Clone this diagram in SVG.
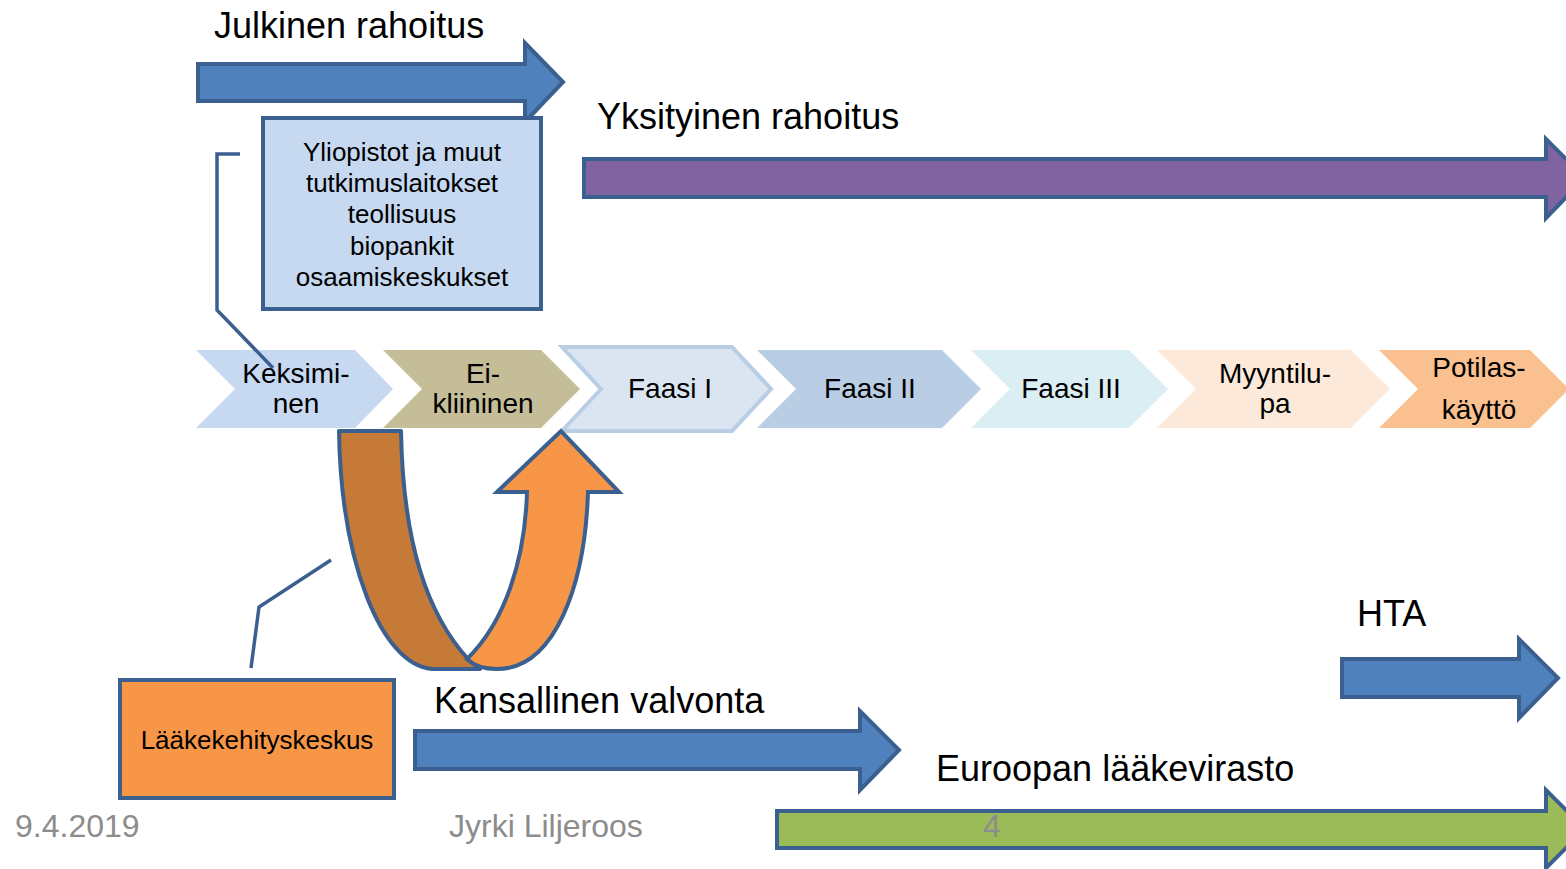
<svg xmlns="http://www.w3.org/2000/svg" width="1566" height="869" viewBox="0 0 1566 869">
<style>
text{font-family:"Liberation Sans",Arial,sans-serif;fill:#000}
.big{font-size:36px}
.mid{font-size:26px;text-anchor:middle}
.chev{font-size:28px;text-anchor:middle}
.foot{font-size:32px;fill:#8c8c8c}
.arrow{stroke:#3b5f8e;stroke-width:4;stroke-linejoin:miter}
.blue{fill:#4f81bd}
.conn{fill:none;stroke:#3b5f8e;stroke-width:3.5}
</style>
<rect width="1566" height="869" fill="#fff"/>
<g id="julkinen">
<path class="arrow blue" d="M198,64 L525,64 L525,43 L563,82 L525,122 L525,101 L198,101 Z"/>
<text class="big" x="214" y="38">Julkinen rahoitus</text>
</g>
<g id="yksityinen">
<path class="arrow" fill="#8064a2" d="M584,159 L1546,159 L1546,139 L1585,178 L1546,218 L1546,197 L584,197 Z"/>
<text class="big" x="597" y="129">Yksityinen rahoitus</text>
</g>
<g id="yliopistot">
<rect x="263" y="118" width="278" height="191" fill="#c6d9f1" stroke="#3b5f8e" stroke-width="4"/>
<text class="mid" x="402" y="161">Yliopistot ja muut</text>
<text class="mid" x="402" y="192">tutkimuslaitokset</text>
<text class="mid" x="402" y="223">teollisuus</text>
<text class="mid" x="402" y="255">biopankit</text>
<text class="mid" x="402" y="286">osaamiskeskukset</text>
</g>
<g id="keksiminen">
<path fill="#c6d9f1" d="M196,350 L355,350 L393,389 L355,428 L196,428 L235,389 Z"/>
</g>
<g id="eikliininen">
<path fill="#c4bd97" d="M383,350 L541,350 L580,389 L541,428 L383,428 L422,389 Z"/>
<text class="chev" x="483" y="383">Ei-</text>
<text class="chev" x="483" y="413">kliininen</text>
</g>
<g id="faasi1">
<path fill="#dbe5f1" stroke="#b9cde5" stroke-width="4" d="M562,347 L732,347 L771,389 L732,431 L562,431 L601,389 Z"/>
<text class="chev" x="670" y="398">Faasi I</text>
</g>
<g id="faasi2">
<path fill="#b9cde5" d="M757,350 L942,350 L981,389 L942,428 L757,428 L796,389 Z"/>
<text class="chev" x="870" y="398">Faasi II</text>
</g>
<g id="faasi3">
<path fill="#dbeef4" d="M971,350 L1129,350 L1168,389 L1129,428 L971,428 L1010,389 Z"/>
<text class="chev" x="1071" y="398">Faasi III</text>
</g>
<g id="myyntilupa">
<path fill="#fde9d9" d="M1157,350 L1351,350 L1390,389 L1351,428 L1157,428 L1196,389 Z"/>
<text class="chev" x="1275" y="383">Myyntilu-</text>
<text class="chev" x="1275" y="413">pa</text>
</g>
<g id="potilaskaytto">
<path fill="#fac090" d="M1379,350 L1530,350 L1569,389 L1530,428 L1379,428 L1418,389 Z"/>
<text class="chev" x="1479" y="377">Potilas-</text>
<text class="chev" x="1479" y="419">käyttö</text>
</g>
<g id="connectors">
<polyline class="conn" points="240,154 217,154 217,310 273,368"/>
<polyline class="conn" points="251,668 259,607 331,560"/>
</g>
<g id="keksiminen-label">
<text class="chev" x="296" y="383">Keksimi-</text>
<text class="chev" x="296" y="413">nen</text>
</g>
<g id="uturn">
<path fill="#c67a37" stroke="#3b5f8e" stroke-width="4" stroke-linejoin="round" d="M339,431 L401,431 C403,545 428,615 468,659 L480,669 L432,669 C380,664 341,560 339,431 Z"/>
<path fill="#f79646" stroke="#3b5f8e" stroke-width="4" stroke-linejoin="miter" d="M467,659 C505,622 525,560 527,492 L497,492 L561,431 L619,492 L588,492 C585,585 555,669 497,669 C485,669 474,666 467,659 Z"/>
</g>
<g id="laakekehityskeskus">
<rect x="120" y="680" width="274" height="118" fill="#f79646" stroke="#3b5f8e" stroke-width="4"/>
<text class="mid" x="257" y="749">Lääkekehityskeskus</text>
</g>
<g id="kansallinen">
<path class="arrow blue" d="M415,731 L860,731 L860,711 L899,750 L860,790 L860,769 L415,769 Z"/>
<text class="big" x="434" y="713">Kansallinen valvonta</text>
</g>
<g id="hta">
<path class="arrow blue" d="M1342,659 L1519,659 L1519,639 L1558,678 L1519,718 L1519,697 L1342,697 Z"/>
<text class="big" x="1357" y="626">HTA</text>
</g>
<g id="euroopan">
<path class="arrow" fill="#9bbb59" d="M777,811 L1546,811 L1546,790 L1585,829 L1546,868 L1546,848 L777,848 Z"/>
<text class="big" x="936" y="781">Euroopan lääkevirasto</text>
</g>
<g id="footer">
<text class="foot" x="15" y="837">9.4.2019</text>
<text class="foot" x="449" y="837">Jyrki Liljeroos</text>
<text class="foot" x="983" y="837">4</text>
</g>
</svg>
